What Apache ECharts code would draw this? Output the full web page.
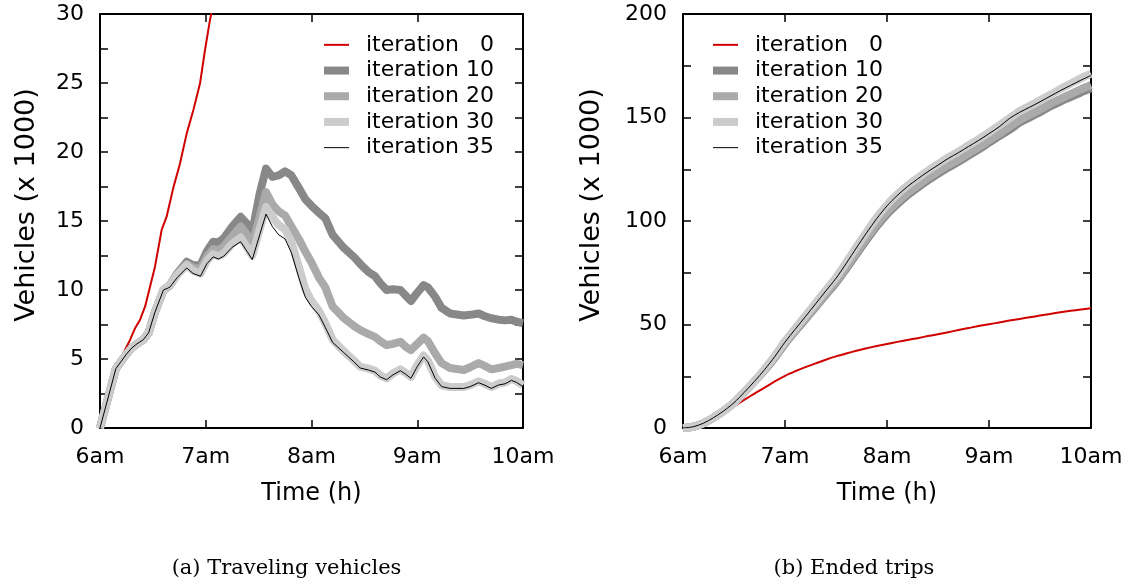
<!DOCTYPE html>
<html><head><meta charset="utf-8">
<script src="https://cdn.jsdelivr.net/npm/echarts@6/dist/echarts.min.js"></script>
<style>html,body{margin:0;padding:0;background:#fff}#c{width:1130px;height:585px}</style>
</head><body><div id="c"></div>
<script>
// ---- labels ----
const timeLabels = ['6am', '7am', '8am', '9am', '10am'];
const seriesNames = ['iteration   0', 'iteration 10', 'iteration 20', 'iteration 30', 'iteration 35'];
const captionA = '(a) Traveling vehicles';
const captionB = '(b) Ended trips';
const yName = 'Vehicles (x 1000)';
const xName = 'Time (h)';

// ---- (a) Traveling vehicles: hours after 6am, vehicles x1000 ----
const tA = [0,0.15,0.25,0.3,0.35,0.41,0.46,0.52,0.6,0.66,0.73,0.82,0.88,0.95,1.01,1.07,1.12,1.17,1.25,1.33,1.39,1.44,1.51,1.57,1.63,1.69,1.75,1.81,1.88,1.94,2.0,2.07,2.13,2.2,2.3,2.4,2.46,2.54,2.6,2.65,2.71,2.77,2.84,2.89,2.94,3.0,3.06,3.1,3.17,3.23,3.31,3.44,3.5,3.58,3.64,3.7,3.77,3.83,3.89,3.94,4.0];
const a10 = [0,4.3,5.35,5.8,6.1,6.4,6.9,8.4,10.0,10.35,11.2,12.05,11.8,11.8,12.8,13.5,13.45,13.75,14.6,15.3,14.8,14.2,17.0,18.8,18.2,18.3,18.6,18.3,17.4,16.6,16.1,15.6,15.2,14.0,13.1,12.4,11.9,11.3,11.0,10.5,10.0,10.05,10.0,9.6,9.2,9.8,10.35,10.2,9.5,8.7,8.3,8.15,8.2,8.3,8.1,7.95,7.85,7.8,7.85,7.7,7.6];
const a20 = [0,4.3,5.35,5.8,6.1,6.4,6.9,8.4,10.0,10.3,11.1,11.9,11.6,11.5,12.4,12.95,12.9,13.15,13.9,14.6,14.0,13.3,15.3,17.1,16.2,15.7,15.4,14.6,13.7,12.8,12.0,10.9,10.2,8.8,8.0,7.4,7.1,6.8,6.6,6.3,6.0,6.1,6.25,5.9,5.65,6.1,6.55,6.3,5.4,4.7,4.35,4.2,4.4,4.7,4.5,4.25,4.35,4.45,4.55,4.65,4.55];
const a30 = [0,4.3,5.35,5.8,6.1,6.4,6.9,8.4,10.05,10.35,11.1,11.8,11.4,11.2,12.1,12.6,12.45,12.65,13.35,13.8,13.1,12.5,14.4,16.0,15.3,14.7,14.4,13.5,11.7,10.1,9.2,8.5,7.6,6.4,5.6,4.9,4.45,4.3,4.15,3.8,3.6,3.95,4.25,4.0,3.7,4.55,5.25,4.9,3.7,3.1,2.97,2.97,3.1,3.38,3.2,2.97,3.22,3.3,3.55,3.4,3.1];
const a35 = [0,4.3,5.35,5.8,6.1,6.4,6.9,8.4,10.0,10.2,10.9,11.6,11.2,11.0,11.9,12.4,12.25,12.45,13.1,13.5,12.8,12.2,14.0,15.5,14.6,14.0,13.7,12.7,10.9,9.5,8.8,8.2,7.3,6.2,5.5,4.8,4.35,4.2,4.05,3.7,3.5,3.85,4.15,3.9,3.6,4.45,5.15,4.8,3.6,3.0,2.87,2.87,3.0,3.28,3.1,2.87,3.12,3.2,3.45,3.3,3.0];
const tA0 = [0,0.15,0.236,0.284,0.331,0.378,0.426,0.473,0.52,0.583,0.63,0.693,0.757,0.82,0.883,0.946,0.993,1.04,1.08];
const a0 = [0,4.3,5.65,6.38,7.22,7.83,8.79,10.24,11.69,14.35,15.31,17.4,19.18,21.35,23.04,24.98,27.39,29.57,31.0];

// ---- (b) Ended trips ----
const tB = [0,0.1,0.2,0.3,0.4,0.5,0.6,0.7,0.8,0.9,1.0,1.1,1.2,1.3,1.4,1.5,1.6,1.7,1.8,1.9,2.0,2.1,2.2,2.3,2.4,2.5,2.6,2.7,2.8,2.9,3.0,3.1,3.2,3.3,3.4,3.5,3.6,3.7,3.8,3.9,4.0];
const b0 = [0,0.6,2.3,5.0,8.2,10.6,13.6,16.6,19.5,22.5,25.2,27.4,29.4,31.2,33.0,34.6,36.0,37.3,38.5,39.6,40.6,41.6,42.5,43.4,44.4,45.3,46.3,47.3,48.3,49.3,50.1,51.0,51.9,52.7,53.5,54.3,55.1,55.9,56.6,57.2,57.8];
const b10 = [0,0.6,2.3,5.0,8.3,12.2,17.2,22.5,27.9,33.9,40.7,46.7,52.5,58.4,64.3,70.1,76.9,84.0,90.9,97.5,103.3,108.1,112.4,116.1,119.6,122.8,125.8,128.6,131.6,134.6,137.8,141.0,144.0,147.5,150.0,152.6,155.3,157.7,159.9,162.1,164.1];
const b20 = [0,0.6,2.3,5.0,8.3,12.2,17.2,22.5,28.0,34.1,40.9,47.0,52.8,58.8,64.8,70.7,77.6,84.8,91.8,98.4,104.3,109.2,113.5,117.2,120.7,123.9,126.9,129.7,132.7,135.7,138.9,142.1,145.4,148.8,151.3,153.9,156.6,159.0,161.3,163.6,165.7];
const b30 = [0,0.6,2.3,5.0,8.3,12.2,17.2,22.5,28.5,34.9,41.9,48.1,54.2,60.4,66.6,72.7,79.9,87.4,94.7,101.7,107.8,112.8,117.1,120.8,124.3,127.5,130.7,133.5,136.6,139.6,142.8,146.1,149.6,153.1,155.7,158.3,161.0,163.8,166.3,168.9,171.2];
const b35 = [0,0.6,2.3,5.0,8.3,12.2,17.2,22.5,28.2,34.5,41.5,47.7,53.8,60.0,66.2,72.3,79.5,87.0,94.3,101.2,107.3,112.3,116.6,120.3,123.8,127.0,130.2,133.0,136.0,139.0,142.2,145.5,149.5,152.5,155.0,157.6,160.3,163.0,165.5,168.0,170.3];

// ---- styles ----
const colors = ['#d00000', '#888888', '#aaaaaa', '#cccccc', '#000000'];
const widths = [2, 8, 8, 8, 1];
const FONT = 'DejaVu Sans';

const pair = (t, v) => t.map((x, i) => [x, v[i]]);

const chart = echarts.init(document.getElementById('c'), null, {renderer: 'canvas'});

const axisLine = {show: true, onZero: false, lineStyle: {color: '#000', width: 2}};
const tick = {show: true, inside: true, length: 8, lineStyle: {color: '#000', width: 1.5}};
const label = {show: true, color: '#000', fontFamily: FONT, fontSize: 22};

function xAxes(g) {
  return [
    {type: 'value', gridIndex: g, position: 'bottom', min: 0, max: 4, interval: 1,
     axisLine, axisTick: tick, splitLine: {show: false},
     axisLabel: Object.assign({}, label, {margin: 18, showMinLabel: true, showMaxLabel: true,
       formatter: v => timeLabels[Math.round(v)]}),
     name: xName, nameLocation: 'middle', nameGap: 54,
     nameTextStyle: {color: '#000', fontFamily: FONT, fontSize: 24}},
    {type: 'value', gridIndex: g, position: 'top', min: 0, max: 4, interval: 1,
     axisLine, axisTick: tick, splitLine: {show: false}, axisLabel: {show: false}}
  ];
}
function yAxes(g, max, interval) {
  const minor = {show: true, splitNumber: 2, length: 8, lineStyle: {color: '#000', width: 1.5}};
  return [
    {type: 'value', gridIndex: g, position: 'left', min: 0, max, interval,
     axisLine, axisTick: tick, minorTick: minor, splitLine: {show: false}, minorSplitLine: {show: false},
     axisLabel: Object.assign({}, label, {margin: 16, showMinLabel: true, showMaxLabel: true})},
    {type: 'value', gridIndex: g, position: 'right', min: 0, max, interval,
     axisLine, axisTick: tick, minorTick: minor, splitLine: {show: false}, minorSplitLine: {show: false},
     axisLabel: {show: false}}
  ];
}

function mkSeries(idx, axisIdx, t, v, smooth) {
  return {
    type: 'line', name: seriesNames[idx], xAxisIndex: axisIdx, yAxisIndex: axisIdx,
    data: pair(t, v), symbol: 'none', showSymbol: false, smooth: smooth,
    clip: true, silent: true,
    lineStyle: {color: colors[idx], width: widths[idx], join: 'round'},
    itemStyle: {color: colors[idx]}, z: 2 + idx
  };
}

function legend(left) {
  return {
    left, top: 32, orient: 'vertical', padding: 0, itemGap: 0,
    itemWidth: 25, itemHeight: 10, selectedMode: false,
    data: seriesNames.slice(),
    lineStyle: {width: 'inherit'},
    itemStyle: {opacity: 0, borderWidth: 0},
    textStyle: {color: '#000', fontFamily: FONT, fontSize: 22, lineHeight: 25.7, padding: [0, 0, 0, 12]}
  };
}

function yTitle(x) {
  return {type: 'text', x, y: 205, rotation: Math.PI / 2,
    style: {text: yName, fontFamily: FONT, fontSize: 27, fill: '#000', align: 'center', verticalAlign: 'middle'}};
}

const option = {
  animation: false,
  backgroundColor: '#fff',
  textStyle: {fontFamily: FONT},
  grid: [
    {left: 100, top: 14, width: 423, height: 414, outerBoundsMode: 'none', containLabel: false},
    {left: 683, top: 14, width: 408, height: 414, outerBoundsMode: 'none', containLabel: false}
  ],
  xAxis: xAxes(0).concat(xAxes(1)),
  yAxis: yAxes(0, 30, 5).concat(yAxes(1, 200, 50)),
  legend: [legend(320), legend(709)],
  series: [
    mkSeries(0, 0, tA0, a0, false),
    mkSeries(1, 0, tA, a10, false),
    mkSeries(2, 0, tA, a20, false),
    mkSeries(3, 0, tA, a30, false),
    mkSeries(4, 0, tA, a35, false),
    mkSeries(0, 2, tB, b0, 0.3),
    mkSeries(1, 2, tB, b10, 0.3),
    mkSeries(2, 2, tB, b20, 0.3),
    mkSeries(3, 2, tB, b30, 0.3),
    mkSeries(4, 2, tB, b35, 0.3)
  ],
  graphic: [
    yTitle(27),
    yTitle(592),
    {type: 'text', x: 286.5, y: 569, style: {text: captionA, fontFamily: 'DejaVu Serif', fontSize: 21, fill: '#000', align: 'center', verticalAlign: 'middle'}},
    {type: 'text', x: 854, y: 569, style: {text: captionB, fontFamily: 'DejaVu Serif', fontSize: 21, fill: '#000', align: 'center', verticalAlign: 'middle'}}
  ]
};
chart.setOption(option);
</script>
</body></html>
